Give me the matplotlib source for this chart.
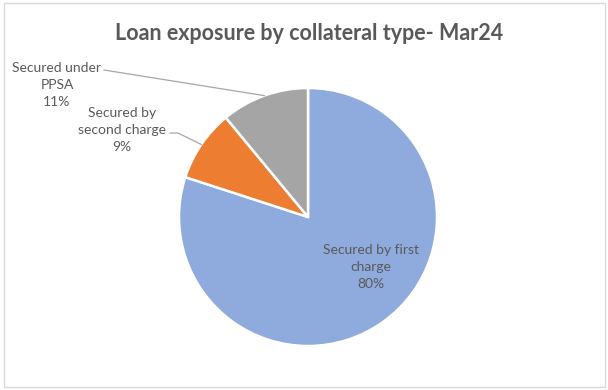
import matplotlib.pyplot as plt
import numpy as np
from matplotlib.patches import Rectangle

plt.rcParams['font.family'] = ['Lato', 'DejaVu Sans']

# data
categories = ['Secured by first\ncharge', 'Secured by\nsecond charge', 'Secured under\nPPSA']
shares = [80, 9, 11]
colors = ['#8FAADC', '#ED7D31', '#A5A5A5']
text_col = '#595959'

fig = plt.figure(figsize=(6.08, 3.9), dpi=100)
# whole figure axes, data units = pixels (y from bottom)
ax = fig.add_axes([0, 0, 1, 1])

# chart border
fig.patches.append(Rectangle((4 / 608, 3 / 390), 601 / 608, 384 / 390,
                             transform=fig.transFigure, fill=False,
                             edgecolor='#D9D9D9', linewidth=1))

cx, cy, r = 308, 173, 129
wedges, _ = ax.pie(shares, colors=colors, startangle=90, counterclock=False,
                   center=(cx, cy), radius=r, frame=True,
                   wedgeprops=dict(edgecolor='white', linewidth=1.8))
ax.set_xlim(0, 608)
ax.set_ylim(0, 390)
ax.set_aspect('equal')
ax.axis('off')

fig.text(309 / 608, 1 - 33 / 390, 'Loan exposure by collateral type- Mar24',
         ha='center', va='center', fontsize=15.5, fontweight='bold', color=text_col)

labels = [f'{c}\n{v}%' for c, v in zip(categories, shares)]
label_pos = [(371, 123), (122, 260), (57, 305)]

for i, (w, lab, pos) in enumerate(zip(wedges, labels, label_pos)):
    ax.text(pos[0], pos[1], lab, ha='center', va='center', fontsize=10,
            color=text_col, linespacing=1.5)
    if i > 0:
        mid = np.deg2rad((w.theta1 + w.theta2) / 2)
        ex, ey = cx + r * np.cos(mid), cy + r * np.sin(mid)
        if i == 1:
            sx, sy = 170, 390 - 133
            ax.plot([sx, sx + 8, ex], [sy, sy, ey], color='#A6A6A6', lw=0.9)
        else:
            sx, sy = 104, 390 - 70
            ax.plot([sx, ex], [sy, ey], color='#A6A6A6', lw=0.9)

fig.savefig('out.png', dpi=100)
